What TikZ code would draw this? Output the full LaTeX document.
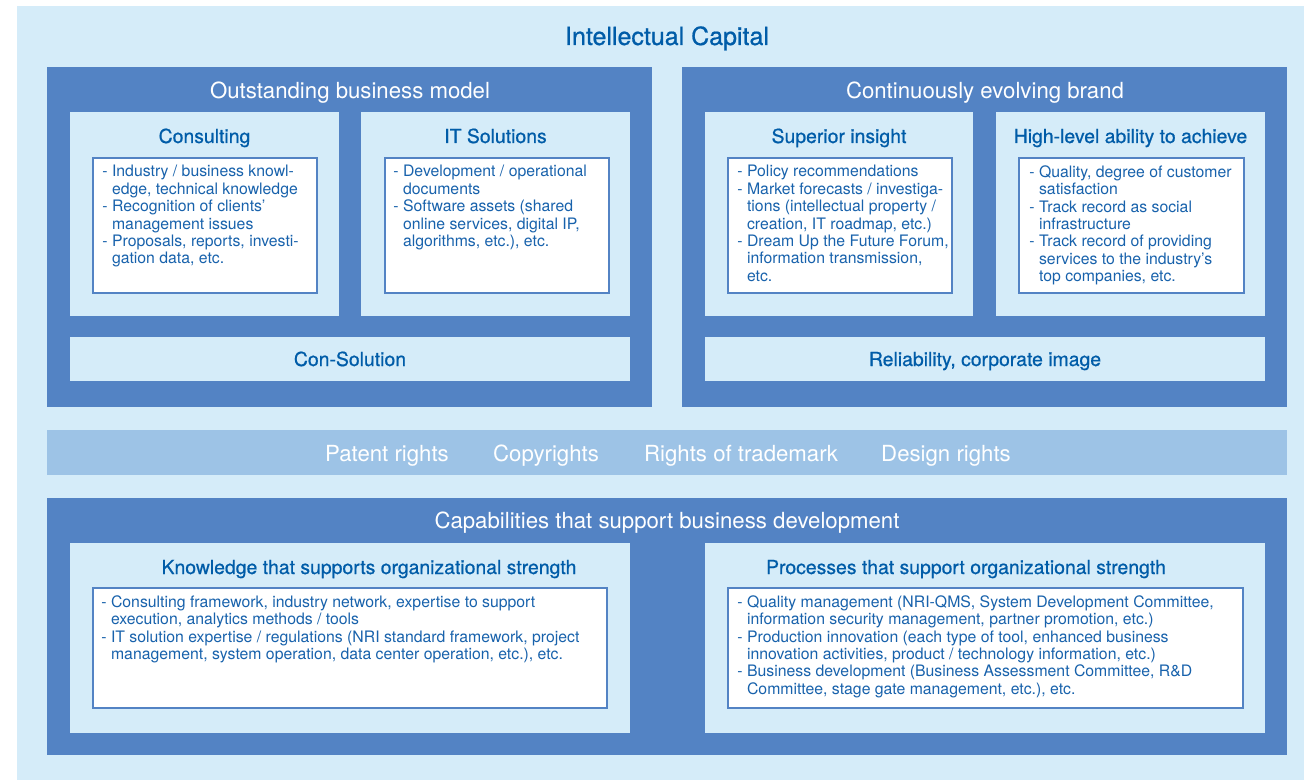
\documentclass[tikz,border=0pt]{standalone}
\usepackage{fontspec}
\setmainfont{TeX Gyre Heros}
\newfontfamily\nrimedium[FakeBold=0.7]{TeX Gyre Heros}
\usetikzlibrary{positioning}

\definecolor{nriDark}{RGB}{83,131,196}
\definecolor{nriLight}{RGB}{213,236,249}
\definecolor{nriMid}{RGB}{157,195,230}
\definecolor{nriTitle}{RGB}{0,92,168}
\definecolor{nriText}{RGB}{24,98,172}

\newcommand{\nriind}{\phantom{- }}

\tikzset{
  panel/.style={fill=nriDark},
  card/.style={fill=nriLight},
  sheet/.style={fill=white, draw=nriDark, line width=0.6pt},
  rightsbar/.style={fill=nriMid},
  maintitle/.style={font=\nrimedium\fontsize{12.5}{15}\selectfont, text=nriTitle, anchor=base},
  panelhead/.style={font=\fontsize{11.1}{13}\selectfont, text=white, anchor=base},
  cardhead/.style={font=\nrimedium\fontsize{9.7}{12}\selectfont, text=nriTitle, anchor=base},
  itemtext/.style={font=\fontsize{7.9}{8.7}\selectfont, text=nriText,
    align=left, anchor=north west, inner sep=0pt},
}

\begin{document}
\begin{tikzpicture}[x=0.5pt, y=-0.5pt]
\useasboundingbox (0,0) rectangle (1304,780);

%% ---- BACKGROUND ----
\fill[nriLight] (17,6) rectangle (1304,780);
\node[maintitle] (ic) at (667,45) {Intellectual Capital};

%% ---- OUTSTANDING BUSINESS MODEL ----
\fill[panel] (47,67) rectangle (652,407);
\node[panelhead] (obm) at (350,99) {Outstanding business model};

\fill[card] (70,112) rectangle (339,316);
\node[cardhead] (cons) at (204.5,143) {Consulting};
\draw[sheet] (93,158) rectangle (317,293);
\node[itemtext] (consitems) at (102,165) {- Industry / business knowl-\\
  \nriind edge, technical knowledge\\
  - Recognition of clients’\\
  \nriind management issues\\
  - Proposals, reports, investi-\\
  \nriind gation data, etc.};

\fill[card] (361,112) rectangle (630,316);
\node[cardhead] (its) at (495.5,143) {IT Solutions};
\draw[sheet] (385,158) rectangle (609,293);
\node[itemtext] (itsitems) at (393,165) {- Development / operational\\
  \nriind documents\\
  - Software assets (shared\\
  \nriind online services, digital IP,\\
  \nriind algorithms, etc.), etc.};

\fill[card] (70,337) rectangle (630,381);
\node[cardhead] (consol) at (350,366) {Con-Solution};

%% ---- CONTINUOUSLY EVOLVING BRAND ----
\fill[panel] (682,67) rectangle (1287,407);
\node[panelhead] (brand) at (985,99) {Continuously evolving brand};

\fill[card] (705,112) rectangle (973,316);
\node[cardhead] (insight) at (839,143) {Superior insight};
\draw[sheet] (728,158) rectangle (952,293);
\node[itemtext] (insightitems) at (737,165) {- Policy recommendations\\
  - Market forecasts / investiga-\\
  \nriind tions (intellectual property /\\
  \nriind creation, IT roadmap, etc.)\\
  - Dream Up the Future Forum,\\
  \nriind information transmission,\\
  \nriind etc.};

\fill[card] (996,112) rectangle (1265,316);
\node[cardhead] (achieve) at (1130.5,143) {High-level ability to achieve};
\draw[sheet] (1019,158) rectangle (1244,293);
\node[itemtext] (achieveitems) at (1029,165) {- Quality, degree of customer\\
  \nriind satisfaction\\
  - Track record as social\\
  \nriind infrastructure\\
  - Track record of providing\\
  \nriind services to the industry’s\\
  \nriind top companies, etc.};

\fill[card] (705,337) rectangle (1265,381);
\node[cardhead] (reliab) at (985,366) {Reliability, corporate image};

%% ---- RIGHTS ----
\fill[rightsbar] (47,430) rectangle (1287,475);
\node[panelhead] (patent) at (387,461) {Patent rights};
\node[panelhead] (copyr)  at (546,461) {Copyrights};
\node[panelhead] (trade)  at (741,461) {Rights of trademark};
\node[panelhead] (design) at (946,461) {Design rights};

%% ---- CAPABILITIES ----
\fill[panel] (47,498) rectangle (1287,755);
\node[panelhead] (capab) at (667,528) {Capabilities that support business development};

\fill[card] (70,543) rectangle (630,733);
\node[cardhead] (know) at (369,574) {Knowledge that supports organizational strength};
\draw[sheet] (93,588) rectangle (607,708);
\node[itemtext] (knowitems) at (101,595) {- Consulting framework, industry network, expertise to support\\
  \nriind execution, analytics methods / tools\\
  - IT solution expertise / regulations (NRI standard framework, project\\
  \nriind management, system operation, data center operation, etc.), etc.};

\fill[card] (705,543) rectangle (1265,733);
\node[cardhead] (proc) at (966,574) {Processes that support organizational strength};
\draw[sheet] (728,588) rectangle (1243,708);
\node[itemtext] (procitems) at (737,595) {- Quality management (NRI-QMS, System Development Committee,\\
  \nriind information security management, partner promotion, etc.)\\
  - Production innovation (each type of tool, enhanced business\\
  \nriind innovation activities, product / technology information, etc.)\\
  - Business development (Business Assessment Committee, R\&D\\
  \nriind Committee, stage gate management, etc.), etc.};

\end{tikzpicture}
\end{document}
